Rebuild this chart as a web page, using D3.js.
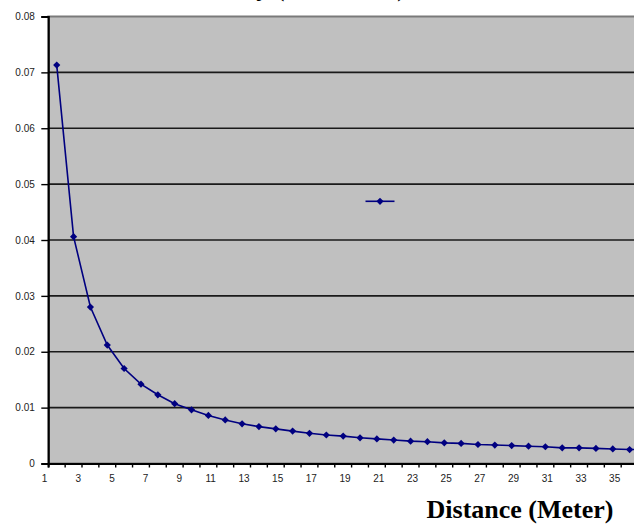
<!DOCTYPE html>
<html>
<head>
<meta charset="utf-8">
<script src="https://cdn.jsdelivr.net/npm/d3@7/dist/d3.min.js"></script>
<style>
  html, body { margin: 0; padding: 0; background: #fff; }
  svg { display: block; }
</style>
</head>
<body>
<div id="chart"></div>
<script>
// Distance in metres (category axis)
const distances = d3.range(1, 37);
// Measured value at each distance
const values = [
  0.0713, 0.0406, 0.0280, 0.0212, 0.0170, 0.0142, 0.0123, 0.0107, 0.0096, 0.0086,
  0.0078, 0.0071, 0.0066, 0.0062, 0.0058, 0.0054, 0.0051, 0.0049, 0.0046, 0.0044,
  0.0042, 0.0040, 0.0039, 0.0037, 0.0036, 0.0034, 0.0033, 0.0032, 0.0031, 0.0030,
  0.0028, 0.0028, 0.0027, 0.0026, 0.0025, 0.0025
];
const yTicks = [0, 0.01, 0.02, 0.03, 0.04, 0.05, 0.06, 0.07, 0.08];
const titleText = "Intensity (Per Meter)";
const xTitleText = "Distance (Meter)";

const W = 634, H = 524;
const plot = { left: 48.3, top: 16.5, width: 606.6, height: 447 };

const svg = d3.select("#chart").append("svg")
  .attr("width", W).attr("height", H);

const x = d3.scaleBand()
  .domain(distances)
  .range([plot.left, plot.left + plot.width])
  .padding(0);
const y = d3.scaleLinear()
  .domain([0, 0.08])
  .range([plot.top + plot.height, plot.top]);

// Plot area
svg.append("rect")
  .attr("x", plot.left).attr("y", plot.top)
  .attr("width", plot.width).attr("height", plot.height)
  .attr("fill", "#c0c0c0")
  .attr("stroke", "#7a7a7a").attr("stroke-width", 2);

// Horizontal gridlines
svg.append("g")
  .selectAll("line")
  .data(yTicks.filter(d => d > 0 && d < 0.08))
  .join("line")
  .attr("x1", plot.left).attr("x2", plot.left + plot.width)
  .attr("y1", d => y(d)).attr("y2", d => y(d))
  .attr("stroke", "#1a1a1a").attr("stroke-width", 1.6);

// Y axis
const yAxis = svg.append("g")
  .attr("transform", `translate(${plot.left},0)`)
  .call(d3.axisLeft(y)
    .tickValues(yTicks)
    .tickSize(7)
    .tickPadding(6.5)
    .tickFormat(d => d === 0 ? "0" : d3.format(".2f")(d)));
yAxis.select(".domain").attr("stroke", "#000").attr("stroke-width", 2);
yAxis.selectAll(".tick line").attr("stroke", "#000").attr("stroke-width", 1.4);
yAxis.selectAll("text")
  .attr("font-family", "Arial, 'Liberation Sans', sans-serif")
  .attr("font-size", 10).attr("fill", "#222");

// X axis: ticks sit on category boundaries, labels end at the left boundary
const step = x.step();
const xAxis = svg.append("g")
  .attr("transform", `translate(0,${plot.top + plot.height})`)
  .call(d3.axisBottom(x)
    .tickSize(4)
    .tickPadding(7)
    .tickFormat(d => d % 2 === 1 ? String(d) : ""));
xAxis.select(".domain").attr("stroke", "#000").attr("stroke-width", 2);
xAxis.selectAll(".tick line")
  .attr("x1", -step / 2).attr("x2", -step / 2)
  .attr("stroke", "#000").attr("stroke-width", 1.4);
xAxis.selectAll(".tick text")
  .attr("x", -step / 2 - 1)
  .attr("text-anchor", "end")
  .attr("font-family", "Arial, 'Liberation Sans', sans-serif")
  .attr("font-size", 10).attr("fill", "#222");

// Series line and diamond markers
const data = distances.map((d, i) => ({ d, v: values[i] }));
const cx = d => x(d) + x.bandwidth() / 2;
const navy = "#000080";

svg.append("path")
  .datum(data)
  .attr("fill", "none")
  .attr("stroke", navy)
  .attr("stroke-width", 1.6)
  .attr("d", d3.line().x(p => cx(p.d)).y(p => y(p.v)));

const diamond = d3.symbol().type(d3.symbolSquare).size(26);
svg.append("g")
  .selectAll("path")
  .data(data)
  .join("path")
  .attr("d", diamond)
  .attr("transform", p => `translate(${cx(p.d)},${y(p.v)}) rotate(45)`)
  .attr("fill", navy);

// Legend key
const legend = svg.append("g").attr("transform", "translate(380,201.3)");
legend.append("line")
  .attr("x1", -14.5).attr("x2", 14.5)
  .attr("stroke", navy).attr("stroke-width", 1.6);
legend.append("path")
  .attr("d", diamond)
  .attr("transform", "rotate(45)")
  .attr("fill", navy);

// Chart title (top edge of the canvas)
svg.append("text")
  .attr("x", 406).attr("y", -4.5)
  .attr("text-anchor", "end")
  .attr("font-family", "'Times New Roman', 'Liberation Serif', serif")
  .attr("font-weight", "bold")
  .attr("font-size", 26)
  .attr("fill", "#000")
  .text(titleText);

// X axis title
svg.append("text")
  .attr("x", 520).attr("y", 517.5)
  .attr("text-anchor", "middle")
  .attr("font-family", "'Times New Roman', 'Liberation Serif', serif")
  .attr("font-weight", "bold")
  .attr("font-size", 26)
  .attr("fill", "#000")
  .text(xTitleText);
</script>
</body>
</html>
